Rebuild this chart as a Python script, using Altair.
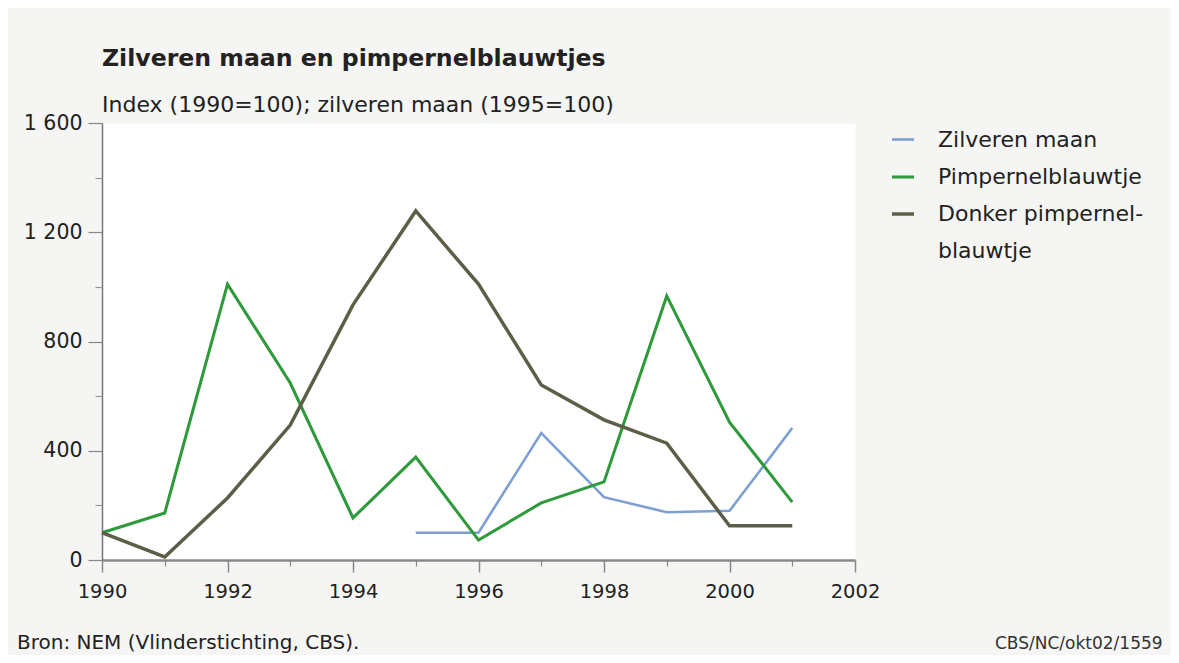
import altair as alt
import pandas as pd

years = list(range(1990, 2002))
zilveren_maan = [None, None, None, None, None, 100, 100, 465, 230, 175, 180, 483]
pimpernelblauwtje = [100, 172, 1010, 648, 154, 377, 73, 209, 286, 967, 505, 212]
donker_pimpernelblauwtje = [100, 11, 227, 494, 934, 1278, 1010, 641, 513, 428, 125, 125]

series_names = ["Zilveren maan", "Pimpernelblauwtje", "Donker pimpernelblauwtje"]
series_colors = ["#7d9fd3", "#2f9a3c", "#5e5e48"]
series_widths = [2.6, 3.5, 3.3]

x_major = [1990, 1992, 1994, 1996, 1998, 2000, 2002]
x_minor = [1991, 1993, 1995, 1997, 1999, 2001]
y_major = [0, 400, 800, 1200, 1600]
y_minor = [200, 600, 1000, 1400]

title_text = "Zilveren maan en pimpernelblauwtjes"
subtitle_text = "Index (1990=100); zilveren maan (1995=100)"
source_text = "Bron: NEM (Vlinderstichting, CBS)."
code_text = "CBS/NC/okt02/1559"

rows = []
for name, vals in zip(series_names, [zilveren_maan, pimpernelblauwtje, donker_pimpernelblauwtje]):
    for y, v in zip(years, vals):
        if v is not None:
            rows.append({"year": y, "value": v, "series": name})
df = pd.DataFrame(rows)

FONT = "DejaVu Sans"
xscale = alt.Scale(domain=[1990, 2002], nice=False, zero=False)
yscale = alt.Scale(domain=[0, 1600], nice=False)

lines = alt.Chart(df).mark_line(clip=False, strokeJoin="miter").encode(
    x=alt.X("year:Q", scale=xscale, title=None,
            axis=alt.Axis(values=x_major, format="d", orient="bottom", tickSize=12,
                          tickColor="#888888", tickWidth=1.5, domainColor="#888888",
                          domainWidth=2.5, labelPadding=10, labelFont=FONT,
                          labelFontSize=19.5, labelColor="#222222", grid=False,
                          labelFlush=False)),
    y=alt.Y("value:Q", scale=yscale, title=None,
            axis=alt.Axis(values=y_major, orient="left", tickSize=14, tickColor="#888888",
                          tickWidth=1.2, domainColor="#777777", domainWidth=1.5,
                          labelPadding=6, labelFont=FONT, labelFontSize=20.5,
                          labelColor="#222222", grid=False,
                          labelExpr="replace(format(datum.value, ','), ',', ' ')")),
    color=alt.Color("series:N", scale=alt.Scale(domain=series_names, range=series_colors),
                    legend=alt.Legend(orient="none", legendX=788, legendY=4, title=None,
                                      symbolType="stroke", symbolStrokeWidth=3,
                                      symbolSize=484, labelFont=FONT, labelFontSize=22,
                                      labelColor="#222222", labelOffset=22, rowPadding=13,
                                      labelLimit=400,
                                      labelExpr="datum.label == 'Donker pimpernelblauwtje' ? ['Donker pimpernel-', 'blauwtje'] : datum.label")),
    strokeWidth=alt.StrokeWidth("series:N", scale=alt.Scale(domain=series_names, range=series_widths),
                                legend=None),
    detail="series:N",
)

minor = alt.Chart(df).mark_line(opacity=0).encode(
    x=alt.X("year:Q", scale=xscale, title=None,
            axis=alt.Axis(values=x_minor, orient="bottom", tickSize=6, tickColor="#888888",
                          tickWidth=1.2, domain=False, labels=False, grid=False)),
    y=alt.Y("value:Q", scale=yscale, title=None,
            axis=alt.Axis(values=y_minor, orient="left", tickSize=7, tickColor="#999999",
                          tickWidth=1.2, domain=False, labels=False, grid=False)),
)

source = alt.Chart(pd.DataFrame({"t": [source_text]})).mark_text(
    align="left", baseline="middle", font=FONT, fontSize=20, color="#222222"
).encode(text="t:N", x=alt.value(-85), y=alt.value(520))

code = alt.Chart(pd.DataFrame({"t": [code_text]})).mark_text(
    align="left", baseline="middle", font=FONT, fontSize=17, color="#333333"
).encode(text="t:N", x=alt.value(893), y=alt.value(521))

chart = alt.layer(lines, minor, source, code).resolve_axis(
    x="independent", y="independent"
).properties(
    width=753, height=437,
    padding={"left": 94, "top": 115, "right": 316, "bottom": 95},
    autosize=alt.AutoSizeParams(type="none"),
    background="#f5f5f3",
    title=alt.TitleParams(text=title_text, subtitle=subtitle_text, anchor="start",
                          frame="group", font=FONT, fontSize=23.6, fontWeight="bold",
                          color="#222222", subtitleFont=FONT, subtitleFontSize=22,
                          subtitleColor="#222222", subtitlePadding=24, offset=-3),
).configure(
    style={"guide-label": {"lineHeight": 37}}
).configure_view(fill="white", stroke="transparent")

chart.save("out.html", embed_options={"renderer": "svg", "actions": False})
